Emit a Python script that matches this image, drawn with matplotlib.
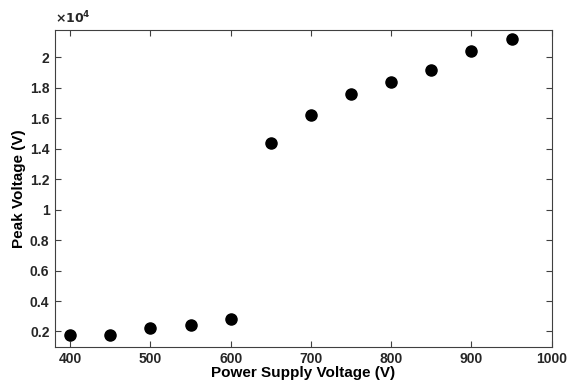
import numpy as np
import matplotlib.pyplot as plt
from matplotlib.ticker import FuncFormatter

# Data
supply_voltage = [400, 450, 500, 550, 600, 650, 700, 750, 800, 850, 900, 950]
peak_voltage = [1800, 1800, 2200, 2400, 2800, 14400, 16200, 17600, 18400, 19200, 20400, 21200]

x_ticks = [400, 500, 600, 700, 800, 900, 1000]
y_ticks = [2000, 4000, 6000, 8000, 10000, 12000, 14000, 16000, 18000, 20000]

plt.rcParams['font.family'] = ['Liberation Sans', 'DejaVu Sans']
plt.rcParams['font.weight'] = 'bold'

axis_color = '#404040'

fig = plt.figure(figsize=(5.68, 3.85), dpi=100)
ax = fig.add_axes([0.0968, 0.0995, 0.8745, 0.8225])

ax.scatter(supply_voltage, peak_voltage, s=64, color='black', zorder=3)

ax.set_xlim(381, 1000)
ax.set_ylim(1000, 21800)
ax.set_xticks(x_ticks)
ax.set_yticks(y_ticks)
ax.yaxis.set_major_formatter(FuncFormatter(lambda v, p: '%g' % (v / 1e4)))

ax.tick_params(direction='in', top=True, right=True, length=4, width=0.8,
               colors=axis_color, labelcolor='#262626', labelsize=10, pad=4)
for side in ax.spines.values():
    side.set_color(axis_color)
    side.set_linewidth(0.8)

ax.set_xlabel('Power Supply Voltage (V)', fontsize=11, fontweight='bold', labelpad=0)
ax.set_ylabel('Peak Voltage (V)', fontsize=11, fontweight='bold', labelpad=3)

ax.text(0.0, 1.012, r'$\mathbf{\times 10^{4}}$', transform=ax.transAxes,
        fontsize=9, ha='left', va='bottom', color='#262626')

fig.savefig('out.png', dpi=100)
